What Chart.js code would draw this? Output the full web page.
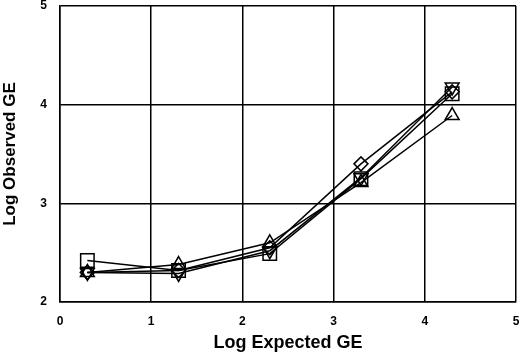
<!DOCTYPE html>
<html>
<head>
<meta charset="utf-8">
<script src="https://cdn.jsdelivr.net/npm/chart.js@4"></script>
<style>
  html, body { margin: 0; padding: 0; background: #fff; }
  #wrap { width: 520px; height: 357px; position: relative; }
</style>
</head>
<body>
<div id="wrap"><canvas id="c" width="520" height="357"></canvas></div>
<script>
// Data
const logExpected = [0.3, 1.3, 2.3, 3.3, 4.3];
const seriesSquare = [2.42, 2.32, 2.49, 3.25, 4.11];
const seriesDiamond = [2.30, 2.32, 2.55, 3.40, 4.13];
const seriesTriangle = [2.30, 2.38, 2.60, 3.21, 3.89];
const seriesInvTriangle = [2.30, 2.29, 2.52, 3.26, 4.18];
const xTicks = [0, 1, 2, 3, 4, 5];
const yTicks = [2, 3, 4, 5];
const xTitle = 'Log Expected GE';
const yTitle = 'Log Observed GE';

function pts(ys) { return logExpected.map((x, i) => ({ x: x, y: ys[i] })); }

function ds(ys, style, radius, rotation) {
  return {
    data: pts(ys),
    showLine: true,
    borderColor: '#000',
    borderWidth: 1.5,
    backgroundColor: 'rgba(0,0,0,0)',
    pointStyle: style,
    pointRadius: radius,
    pointRotation: rotation || 0,
    pointBorderColor: '#000',
    pointBorderWidth: 1.5,
    pointBackgroundColor: 'rgba(0,0,0,0)',
    tension: 0,
    clip: false
  };
}

const font = 'Liberation Sans, Arial, sans-serif';

function noPad(s) { s.paddingTop = 0; s.paddingBottom = 0; s.paddingLeft = 0; s.paddingRight = 0; }

new Chart(document.getElementById('c'), {
  type: 'scatter',
  data: {
    datasets: [
      ds(seriesSquare, 'rect', 9.5),
      ds(seriesDiamond, 'rectRot', 7),
      ds(seriesTriangle, 'triangle', 8),
      ds(seriesInvTriangle, 'triangle', 8, 180)
    ]
  },
  options: {
    responsive: false,
    animation: false,
    events: [],
    layout: { autoPadding: false, padding: { top: 6, right: 4, left: 0, bottom: 0 } },
    plugins: { legend: { display: false }, tooltip: { enabled: false } },
    scales: {
      x: {
        type: 'linear',
        min: 0, max: 5,
        afterBuildTicks: s => { s.ticks = xTicks.map(v => ({ value: v })); },
        afterFit: s => { s.height = 55; noPad(s); },
        grid: { color: '#000', lineWidth: 1.5, drawTicks: false },
        border: { display: true, color: '#000', width: 1.5 },
        ticks: { color: '#000', padding: 12, maxRotation: 0, font: { family: font, size: 12, weight: 'bold' } },
        title: { display: true, text: xTitle, color: '#000', padding: { top: 0, bottom: 3 },
                 font: { family: font, size: 18, weight: 'bold' } }
      },
      y: {
        type: 'linear',
        min: 2, max: 5,
        afterBuildTicks: s => { s.ticks = yTicks.map(v => ({ value: v })); },
        afterFit: s => { s.width = 60; noPad(s); },
        grid: { color: '#000', lineWidth: 1.5, drawTicks: false },
        border: { display: true, color: '#000', width: 1.5 },
        ticks: { color: '#000', padding: 13, font: { family: font, size: 12, weight: 'bold' } },
        title: { display: true, text: yTitle, color: '#000', padding: { top: 0, bottom: 0 },
                 font: { family: font, size: 17, weight: 'bold' } }
      }
    }
  }
});
</script>
</body>
</html>
